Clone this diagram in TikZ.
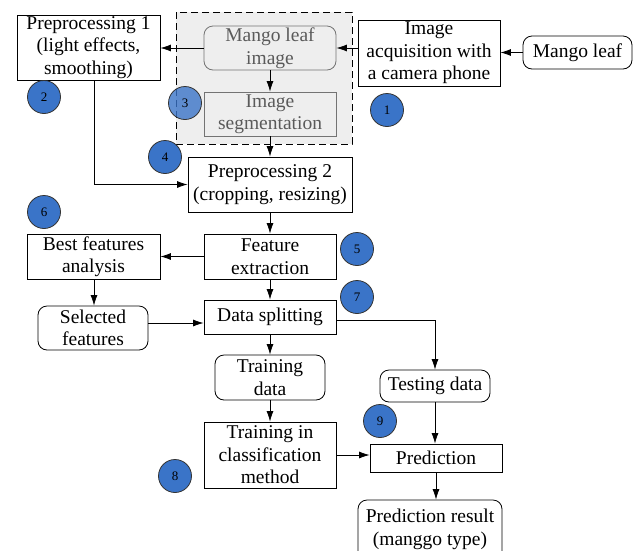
\documentclass[tikz,border=0pt]{standalone}
\usepackage{fontspec}
\setmainfont{Liberation Serif}
\usetikzlibrary{arrows.meta}
\definecolor{numblue}{HTML}{3A74C8}
\definecolor{greytxt}{HTML}{5A5A5A}
\tikzset{
  box/.style={draw, line width=0.8pt, align=center, inner sep=0pt, font=\fontsize{19.5}{22.5}\selectfont},
  rbox/.style={box, rounded corners=9pt},
  greybox/.style={draw=black!55, text=greytxt},
  num/.style={circle, draw=black!80, line width=0.8pt, fill=numblue, minimum size=33pt, inner sep=0pt, font=\fontsize{13}{13}\selectfont},
  arr/.style={line width=0.8pt, -{Latex[length=10.5pt,width=7pt]}},
}
\begin{document}
\begin{tikzpicture}[x=1pt,y=-1pt]
\useasboundingbox (0,0) rectangle (638,550);
\clip (0,0) rectangle (638,550);
% dashed group
\draw[line width=1pt, dash pattern=on 7pt off 4pt, fill=gray!13] (176,12) rectangle (352,144);
% nodes
\node[box, minimum width=143pt, minimum height=65pt] (p1) at (88.5,47.5) {Preprocessing 1\\(light effects,\\smoothing)};
\node[rbox, greybox, minimum width=132pt, minimum height=44pt] (mli) at (270,48) {Mango leaf\\image};
\node[box, greybox, minimum width=132pt, minimum height=44pt] (seg) at (270,114) {Image\\segmentation};
\node[box, minimum width=142pt, minimum height=66pt] (acq) at (429,53) {Image\\acquisition with\\a camera phone};
\node[rbox, minimum width=109pt, minimum height=33pt] (ml) at (577.5,52.5) {Mango leaf};
\node[box, minimum width=164pt, minimum height=55pt] (p2) at (270,184.5) {Preprocessing 2\\(cropping, resizing)};
\node[box, minimum width=132pt, minimum height=45pt] (fe) at (270,256.5) {Feature\\extraction};
\node[box, minimum width=133pt, minimum height=45pt] (bfa) at (93.5,256.5) {Best features\\analysis};
\node[rbox, minimum width=110pt, minimum height=44pt] (sel) at (93,328) {Selected\\features};
\node[box, minimum width=132pt, minimum height=34pt] (ds) at (270,317) {Data splitting};
\node[rbox, minimum width=110pt, minimum height=45pt] (td) at (270,377.5) {Training\\data};
\node[rbox, minimum width=110pt, minimum height=32pt] (ted) at (435,386) {Testing data};
\node[box, minimum width=132pt, minimum height=66pt] (tcm) at (270,455) {Training in\\classification\\method};
\node[box, minimum width=132pt, minimum height=28pt] (pred) at (436,458) {Prediction};
\node[rbox, minimum width=144pt, minimum height=62pt, text depth=8pt] (pr) at (430,531) {Prediction result\\(manggo type)};
% connectors
\draw[arr] (ml.west) -- (ml.west -| acq.east);
\draw[arr] (acq.west |- mli.east) -- (mli.east);
\draw[arr] (mli.west) -- (mli.west -| p1.east);
\draw[arr] (mli.south) -- (seg.north);
\draw[arr] (seg.south) -- (p2.north);
\draw[arr] ([xshift=5.5pt]p1.south) |- (p2.west);
\draw[arr] (p2.south) -- (fe.north);
\draw[arr] (fe.west) -- (bfa.east);
\draw[arr] ([xshift=0.5pt]bfa.south) -- ([xshift=1pt]sel.north);
\path ([yshift=5pt]sel.east) coordinate (s1);
\draw[arr] (s1) -- (s1 -| ds.west);
\draw[arr] (fe.south) -- (ds.north);
\draw[arr] ([yshift=-3pt]ds.east) -| (ted.north);
\draw[arr] (ds.south) -- (td.north);
\draw[arr] (td.south) -- (tcm.north);
\draw[arr] (tcm.east) -- (tcm.east -| pred.west);
\draw[arr] (ted.south) -- (ted.south |- pred.north);
\draw[arr] (pred.south) -- (pred.south |- pr.north);
% numbered circles
\node[num] (n1) at (387,110) {1};
\node[num] (n2) at (44,97) {2};
\node[num, fill opacity=0.8, text opacity=1] (n3) at (185,103) {3};
\node[num] (n4) at (165,157) {4};
\node[num] (n5) at (357,249) {5};
\node[num] (n6) at (44,212) {6};
\node[num] (n7) at (357,297) {7};
\node[num] (n8) at (175,476) {8};
\node[num] (n9) at (380,421) {9};
\end{tikzpicture}
\end{document}
